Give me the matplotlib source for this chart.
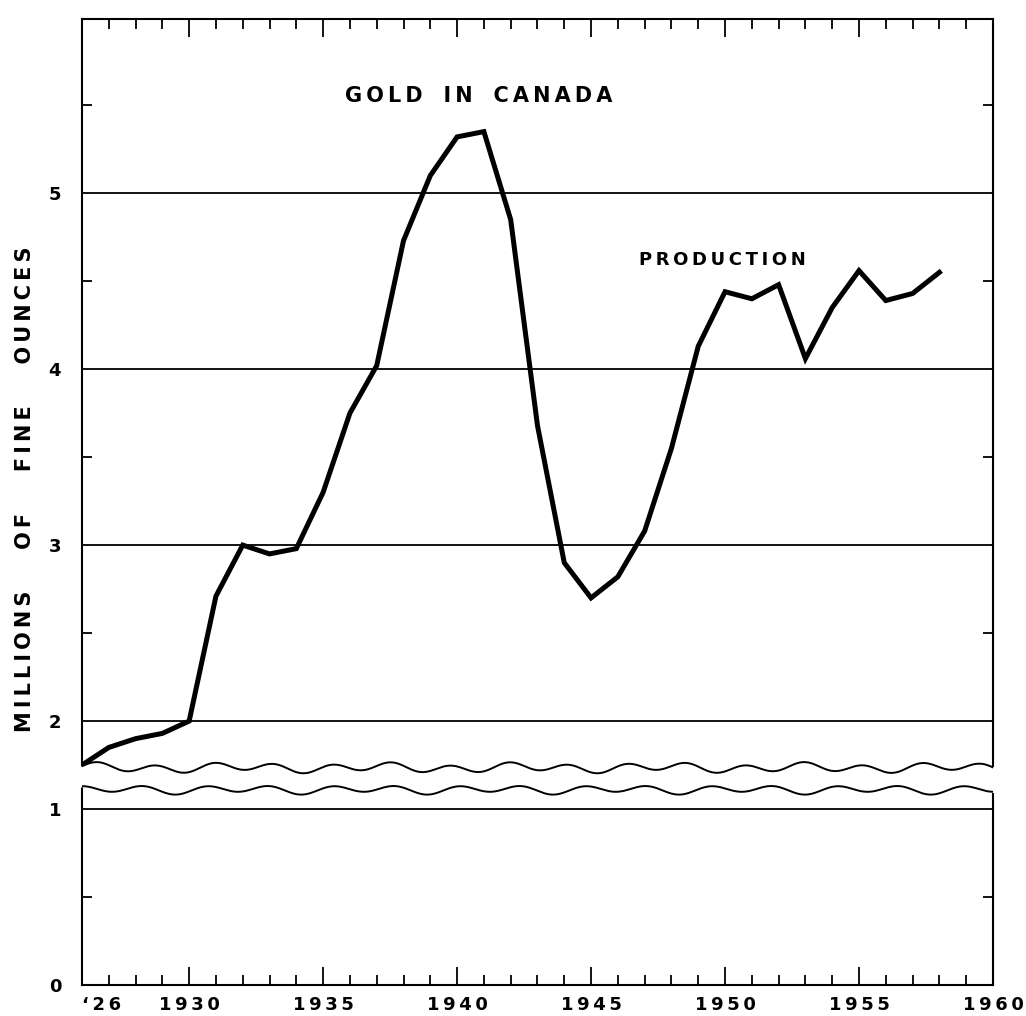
import numpy as np
import matplotlib.pyplot as plt

# gold production in Canada, millions of fine ounces
years = list(range(1926, 1959))
production = [1.75, 1.85, 1.90, 1.93, 2.00, 2.71, 3.00, 2.95, 2.98, 3.30,
              3.75, 4.02, 4.73, 5.10, 5.32, 5.35, 4.85, 3.68, 2.90, 2.70,
              2.82, 3.08, 3.55, 4.13, 4.44, 4.40, 4.48, 4.06, 4.35, 4.56,
              4.39, 4.43, 4.55]

xtick_pos = [1926, 1930, 1935, 1940, 1945, 1950, 1955, 1960]
xtick_lab = ["\u2018\u20092\u20096", "1\u20099\u20093\u20090", "1\u20099\u20093\u20095",
             "1\u20099\u20094\u20090", "1\u20099\u20094\u20095", "1\u20099\u20095\u20090",
             "1\u20099\u20095\u20095", "1\u20099\u20096\u20090"]
ytick_vals = [0, 1, 2, 3, 4, 5]
grid_vals = [1, 2, 3, 4, 5]
half_vals = [0.5, 2.5, 3.5, 4.5, 5.5]

SHIFT = 0.5  # values above the break are drawn 0.5 lower


def disp(v):
    return v - SHIFT if v >= 1.5 else v


plt.rcParams['font.family'] = ['DejaVu Sans']
plt.rcParams['font.weight'] = 'bold'
fig = plt.figure(figsize=(10.26, 10.16), dpi=100)
ax = fig.add_axes([0.0799, 0.0305, 0.8879, 0.9508])
ax.set_xlim(1926, 1960)
ax.set_ylim(0, 5.49)

for v in grid_vals:
    ax.axhline(disp(v), color='black', lw=1.3, zorder=1)

ax.plot(years, [disp(v) for v in production], color='black', lw=3.6,
        solid_joinstyle='miter', zorder=2)

# x ticks
ax.set_xticks(xtick_pos)
ax.set_xticklabels(xtick_lab, fontsize=13, fontweight='bold')
ax.set_xticks(range(1926, 1961), minor=True)
ax.tick_params(axis='x', which='major', direction='in', length=13, width=1.3,
               top=True, pad=8)
ax.tick_params(axis='x', which='minor', direction='in', length=7, width=1.3,
               top=True)
ax.get_xticklabels()[0].set_horizontalalignment('left')

# y ticks: labels at integers, small ticks at halves
ax.set_yticks([disp(v) for v in ytick_vals])
ax.set_yticklabels([str(v) for v in ytick_vals], fontsize=13, fontweight='bold')
ax.tick_params(axis='y', which='major', length=0, pad=15)
ax.set_yticks([disp(v) for v in half_vals], minor=True)
ax.tick_params(axis='y', which='minor', direction='in', length=7, width=1.3,
               right=True)

for s in ax.spines.values():
    s.set_linewidth(1.5)

# axis break
xb = np.linspace(1925.9, 1960.1, 600)
top_edge = 1.235 + 0.022 * np.sin(2 * np.pi * (xb - 1926) / 2.2) \
    + 0.01 * np.sin(2 * np.pi * (xb - 1926) / 5.3 + 1.0)
bot_edge = 1.11 + 0.02 * np.sin(2 * np.pi * (xb - 1926) / 2.35 + 1.7) \
    + 0.008 * np.sin(2 * np.pi * (xb - 1926) / 4.7)
ax.fill_between(xb, bot_edge, top_edge, color='white', zorder=5, clip_on=False)
inside = (xb >= 1926) & (xb <= 1960)
ax.plot(xb[inside], top_edge[inside], color='black', lw=1.4, zorder=6)
ax.plot(xb[inside], bot_edge[inside], color='black', lw=1.4, zorder=6)

ax.text(1940.8, disp(5.55), "G\u2009O\u2009L\u2009D\u2003I\u2009N\u2003C\u2009A\u2009N\u2009A\u2009D\u2009A",
        fontsize=15, fontweight='bold', ha='center', va='center')
ax.text(1946.8, disp(4.62), "P\u2009R\u2009O\u2009D\u2009U\u2009C\u2009T\u2009I\u2009O\u2009N",
        fontsize=13, fontweight='bold', ha='left', va='center')

fig.text(0.0245, 0.518,
         "M\u2009I\u2009L\u2009L\u2009I\u2009O\u2009N\u2009S\u2003\u2003O\u2009F\u2003\u2003F\u2009I\u2009N\u2009E\u2003\u2003O\u2009U\u2009N\u2009C\u2009E\u2009S",
         rotation=90, fontsize=15, fontweight='bold', ha='center', va='center')

fig.savefig("out.png", dpi=100)
